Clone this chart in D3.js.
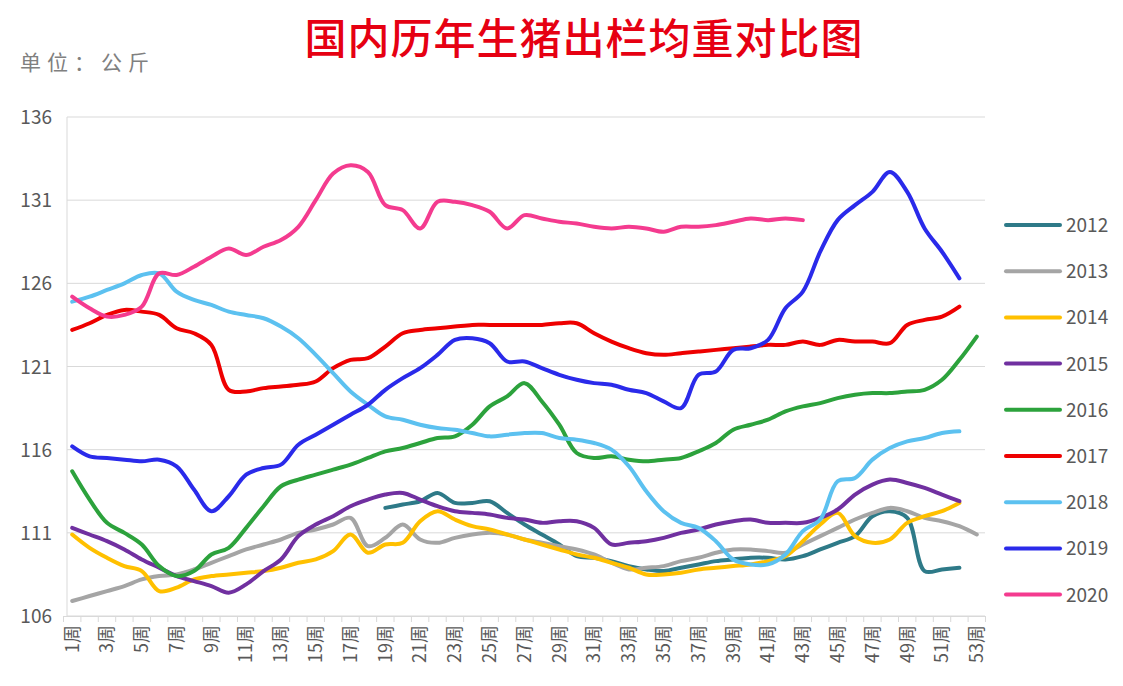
<!DOCTYPE html>
<html>
<head>
<meta charset="utf-8">
<script src="https://cdn.jsdelivr.net/npm/d3@7"></script>
<style>
body { margin:0; background:#fff; }
svg text { font-family: "Noto Sans CJK SC", "Liberation Sans", sans-serif; }
</style>
</head>
<body>
<script>
const weeks = d3.range(1, 54);
const years = ["2012","2013","2014","2015","2016","2017","2018","2019","2020"];
const colors = ["#2e7a88","#a5a5a5","#ffc000","#7030a0","#2ca23c","#ee0000","#5cc1f0","#2a2aea","#f43b8f"];
const yTicks = [106,111,116,121,126,131,136];

// 2012 starts at week 19
const w2012 = [112.5,112.7,112.9,113.4,112.8,112.8,112.9,112.2,111.5,110.9,110.3,109.6,109.5,109.3,109.0,108.8,108.7,108.9,109.1,109.3,109.4,109.5,109.5,109.4,109.6,110.0,110.4,110.8,112.0,112.3,111.9,108.7,108.8,108.9];
const w2013 = [106.9,107.2,107.5,107.8,108.2,108.4,108.5,108.8,109.2,109.6,110.0,110.3,110.6,111.0,111.2,111.5,111.9,110.2,110.7,111.5,110.6,110.4,110.7,110.9,111.0,110.9,110.6,110.4,110.2,110.0,109.7,109.2,108.8,108.9,109.0,109.3,109.5,109.8,110.0,110.0,109.9,109.8,110.3,110.8,111.3,111.8,112.2,112.5,112.3,111.9,111.7,111.4,110.9];
const w2014 = [110.9,110.1,109.5,109.0,108.7,107.5,107.7,108.2,108.4,108.5,108.6,108.7,108.9,109.2,109.4,109.9,110.9,109.8,110.3,110.4,111.7,112.3,111.8,111.4,111.2,110.9,110.6,110.3,110.0,109.7,109.5,109.2,108.9,108.5,108.5,108.6,108.8,108.9,109.0,109.1,109.3,109.6,110.5,111.5,112.2,110.8,110.4,110.6,111.6,112.0,112.3,112.8];
const w2015 = [111.3,110.9,110.5,110.0,109.4,108.9,108.4,108.1,107.8,107.4,107.9,108.7,109.4,110.8,111.5,112.0,112.6,113.0,113.3,113.4,113.0,112.6,112.3,112.2,112.1,111.9,111.8,111.6,111.7,111.7,111.3,110.3,110.4,110.5,110.7,111.0,111.2,111.5,111.7,111.8,111.6,111.6,111.6,111.9,112.4,113.3,113.9,114.2,114.0,113.7,113.3,112.9];
const w2016 = [114.7,113.0,111.6,111.0,110.3,109.0,108.4,108.7,109.7,110.1,111.3,112.6,113.8,114.2,114.5,114.8,115.1,115.5,115.9,116.1,116.4,116.7,116.8,117.5,118.6,119.2,120.0,118.9,117.5,115.8,115.5,115.6,115.4,115.3,115.4,115.5,115.9,116.4,117.2,117.5,117.8,118.3,118.6,118.8,119.1,119.3,119.4,119.4,119.5,119.6,120.2,121.4,122.8];
const w2017 = [123.2,123.6,124.1,124.4,124.3,124.1,123.3,123.0,122.3,119.6,119.5,119.7,119.8,119.9,120.1,120.9,121.4,121.5,122.2,123.0,123.2,123.3,123.4,123.5,123.5,123.5,123.5,123.5,123.6,123.6,123.0,122.5,122.1,121.8,121.7,121.8,121.9,122.0,122.1,122.2,122.3,122.3,122.5,122.3,122.6,122.5,122.5,122.4,123.5,123.8,124.0,124.6];
const w2018 = [124.9,125.2,125.6,126.0,126.5,126.6,125.5,125.0,124.7,124.3,124.1,123.9,123.4,122.7,121.7,120.6,119.5,118.7,118.0,117.8,117.5,117.3,117.2,117.0,116.8,116.9,117.0,117.0,116.7,116.6,116.4,116.0,115.0,113.5,112.3,111.6,111.3,110.5,109.4,109.1,109.1,109.7,111.1,111.8,114.1,114.3,115.4,116.1,116.5,116.7,117.0,117.1];
const w2019 = [116.2,115.6,115.5,115.4,115.3,115.4,115.0,113.6,112.3,113.2,114.5,114.9,115.1,116.3,116.9,117.5,118.1,118.7,119.6,120.3,120.9,121.7,122.6,122.7,122.4,121.3,121.3,120.9,120.5,120.2,120.0,119.9,119.6,119.4,118.9,118.5,120.5,120.7,122.0,122.1,122.6,124.5,125.5,127.9,129.8,130.7,131.5,132.7,131.5,129.3,127.9,126.3];
const w2020 = [125.2,124.5,124.0,124.1,124.6,126.6,126.5,127.0,127.6,128.1,127.7,128.2,128.6,129.4,131.0,132.6,133.1,132.7,130.7,130.4,129.3,130.9,130.9,130.7,130.3,129.3,130.1,129.9,129.7,129.6,129.4,129.3,129.4,129.3,129.1,129.4,129.4,129.5,129.7,129.9,129.8,129.9,129.8];

const seriesValues = [w2012,w2013,w2014,w2015,w2016,w2017,w2018,w2019,w2020];
const startWeek = [19,1,1,1,1,1,1,1,1];

const W = 1123, H = 686;
const svg = d3.select("body").append("svg").attr("width",W).attr("height",H);

const x = d3.scaleBand().domain(weeks).range([63.5,985.5]).padding(0);
const y = d3.scaleLinear().domain([106,136]).range([616,117]);
const xc = w => x(w) + x.bandwidth()/2;

// title
svg.append("text").attr("x",584).attr("y",54).attr("text-anchor","middle")
  .attr("fill","#e60012").attr("font-size",42).attr("font-weight",500)
  .attr("letter-spacing",1)
  .text("国内历年生猪出栏均重对比图");
svg.append("text").attr("x",20).attr("y",70)
  .attr("fill","#808080").attr("font-size",21).attr("letter-spacing",6)
  .text("单位：公斤");

// grid
svg.append("g").selectAll("line").data(yTicks).enter().append("line")
  .attr("x1",67).attr("x2",985).attr("y1",d=>y(d)).attr("y2",d=>y(d))
  .attr("stroke","#d9d9d9").attr("stroke-width",1);
svg.append("line").attr("x1",67).attr("x2",67).attr("y1",y(136)).attr("y2",y(106))
  .attr("stroke","#d9d9d9");

// y labels
svg.append("g").selectAll("text").data(yTicks).enter().append("text")
  .attr("x",52).attr("y",d=>y(d)+7).attr("text-anchor","end")
  .attr("fill","#595959").attr("font-size",19).attr("font-family","Liberation Sans")
  .text(d=>d);

// x axis
const xAxis = d3.axisBottom(x).tickSize(0).tickFormat(d => d % 2 === 1 ? d + "周" : "");
const gx = svg.append("g").attr("transform",`translate(0,${y(106)})`).call(xAxis);
gx.select(".domain").attr("stroke","#d9d9d9");
gx.selectAll("text").attr("transform","rotate(-90)").attr("x",-9).attr("y",0)
  .attr("dy","0.35em").attr("text-anchor","end").attr("fill","#595959")
  .attr("font-size",18).attr("font-family","Noto Sans CJK SC");
svg.append("g").selectAll("line").data(weeks.concat([54])).enter().append("line")
  .attr("x1",d=> d===54 ? x(53)+x.bandwidth() : x(d)).attr("x2",d=> d===54 ? x(53)+x.bandwidth() : x(d))
  .attr("y1",y(106)).attr("y2",y(106)+6).attr("stroke","#d9d9d9");

// lines
const line = d3.line().x(d=>xc(d.w)).y(d=>y(d.v)).curve(d3.curveCatmullRom.alpha(0.5));
years.forEach((yr,i) => {
  const pts = seriesValues[i].map((v,j) => ({w: startWeek[i]+j, v}));
  svg.append("path").datum(pts).attr("d",line)
    .attr("fill","none").attr("stroke",colors[i]).attr("stroke-width",4)
    .attr("stroke-linejoin","round").attr("stroke-linecap","round");
});

// legend
const lg = svg.append("g").selectAll("g").data(years).enter().append("g")
  .attr("transform",(d,i)=>`translate(0,${225 + i*46.2})`);
lg.append("line").attr("x1",1006).attr("x2",1060).attr("y1",0).attr("y2",0)
  .attr("stroke",(d,i)=>colors[i]).attr("stroke-width",4).attr("stroke-linecap","round");
lg.append("text").attr("x",1066).attr("y",7).attr("fill","#595959")
  .attr("font-size",19).attr("font-family","Liberation Sans").text(d=>d);
</script>
</body>
</html>
